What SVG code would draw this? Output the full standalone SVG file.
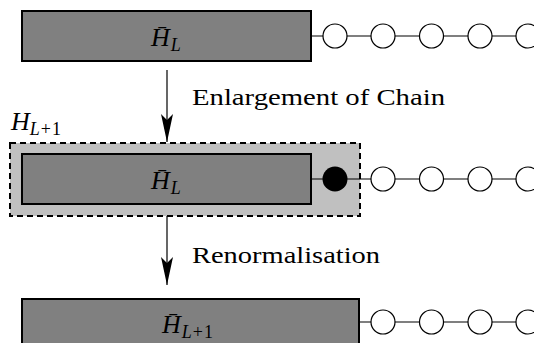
<svg xmlns="http://www.w3.org/2000/svg" width="534" height="343" viewBox="0 0 534 343">
  <defs>
    <marker id="head" markerUnits="userSpaceOnUse" markerWidth="40" markerHeight="20" viewBox="-30 -10 40 20" refX="0" refY="0" orient="auto" overflow="visible">
      <path d="M0,0 L-28,-6 L-22,0 L-28,6 Z" fill="#000"/>
    </marker>
  </defs>

  <!-- enlarged block backdrop -->
  <g id="enlarged-block">
    <rect x="10" y="143" width="350" height="73" fill="#c0c0c0" stroke="#000" stroke-width="2" stroke-dasharray="6,4"/>
    <text font-family="Liberation Serif" font-style="italic" font-size="26" x="11" y="130">H<tspan font-size="18" dy="5">L<tspan font-style="normal" dx="1">+</tspan><tspan font-style="normal" dx="1">1</tspan></tspan></text>
  </g>

  <!-- chain bonds and flow arrows -->
  <g id="connectors" stroke="#000" stroke-width="1.2" fill="none">
    <line x1="311" y1="36" x2="528" y2="36"/>
    <line x1="311" y1="179" x2="528" y2="179"/>
    <line x1="359" y1="322" x2="528" y2="322"/>
    <line x1="167" y1="70" x2="167" y2="142" marker-end="url(#head)"/>
    <line x1="167" y1="216" x2="167" y2="285" marker-end="url(#head)"/>
  </g>

  <!-- top row: block and chain -->
  <g id="block-top">
    <rect x="22" y="11" width="289" height="50" fill="#808080" stroke="#000" stroke-width="2"/>
    <text font-family="Liberation Serif" font-style="italic" font-size="26" x="151" y="46">H&#x0304;<tspan font-size="18" dy="5" dx="1">L</tspan></text>
  </g>
  <g id="chain-top" fill="#fff" stroke="#000" stroke-width="1.2">
    <circle cx="335" cy="36" r="12"/>
    <circle cx="383" cy="36" r="12"/>
    <circle cx="431.5" cy="36" r="12"/>
    <circle cx="480" cy="36" r="12"/>
    <circle cx="528" cy="36" r="12"/>
  </g>

  <text font-family="Liberation Serif" font-size="24" x="192" y="105" textLength="253" lengthAdjust="spacingAndGlyphs">Enlargement of Chain</text>

  <!-- middle row: block plus added site -->
  <g id="block-mid">
    <rect x="22" y="154" width="289" height="50" fill="#808080" stroke="#000" stroke-width="2"/>
    <text font-family="Liberation Serif" font-style="italic" font-size="26" x="151" y="189">H&#x0304;<tspan font-size="18" dy="5" dx="1">L</tspan></text>
  </g>
  <g id="site-added">
    <circle cx="335" cy="179" r="12.5" fill="#000"/>
  </g>
  <g id="chain-mid" fill="#fff" stroke="#000" stroke-width="1.2">
    <circle cx="383" cy="179" r="12"/>
    <circle cx="431.5" cy="179" r="12"/>
    <circle cx="480" cy="179" r="12"/>
    <circle cx="528" cy="179" r="12"/>
  </g>

  <text font-family="Liberation Serif" font-size="24" x="192" y="263" textLength="188" lengthAdjust="spacingAndGlyphs">Renormalisation</text>

  <!-- bottom row: renormalised block -->
  <g id="block-bottom">
    <rect x="22" y="299" width="337" height="60" fill="#808080" stroke="#000" stroke-width="2"/>
    <text font-family="Liberation Serif" font-style="italic" font-size="26" x="162" y="333">H&#x0304;<tspan font-size="18" dy="5" dx="1">L<tspan font-style="normal" dx="1">+</tspan><tspan font-style="normal" dx="1">1</tspan></tspan></text>
  </g>
  <g id="chain-bottom" fill="#fff" stroke="#000" stroke-width="1.2">
    <circle cx="383" cy="322" r="12"/>
    <circle cx="431.5" cy="322" r="12"/>
    <circle cx="480" cy="322" r="12"/>
    <circle cx="528" cy="322" r="12"/>
  </g>
</svg>
